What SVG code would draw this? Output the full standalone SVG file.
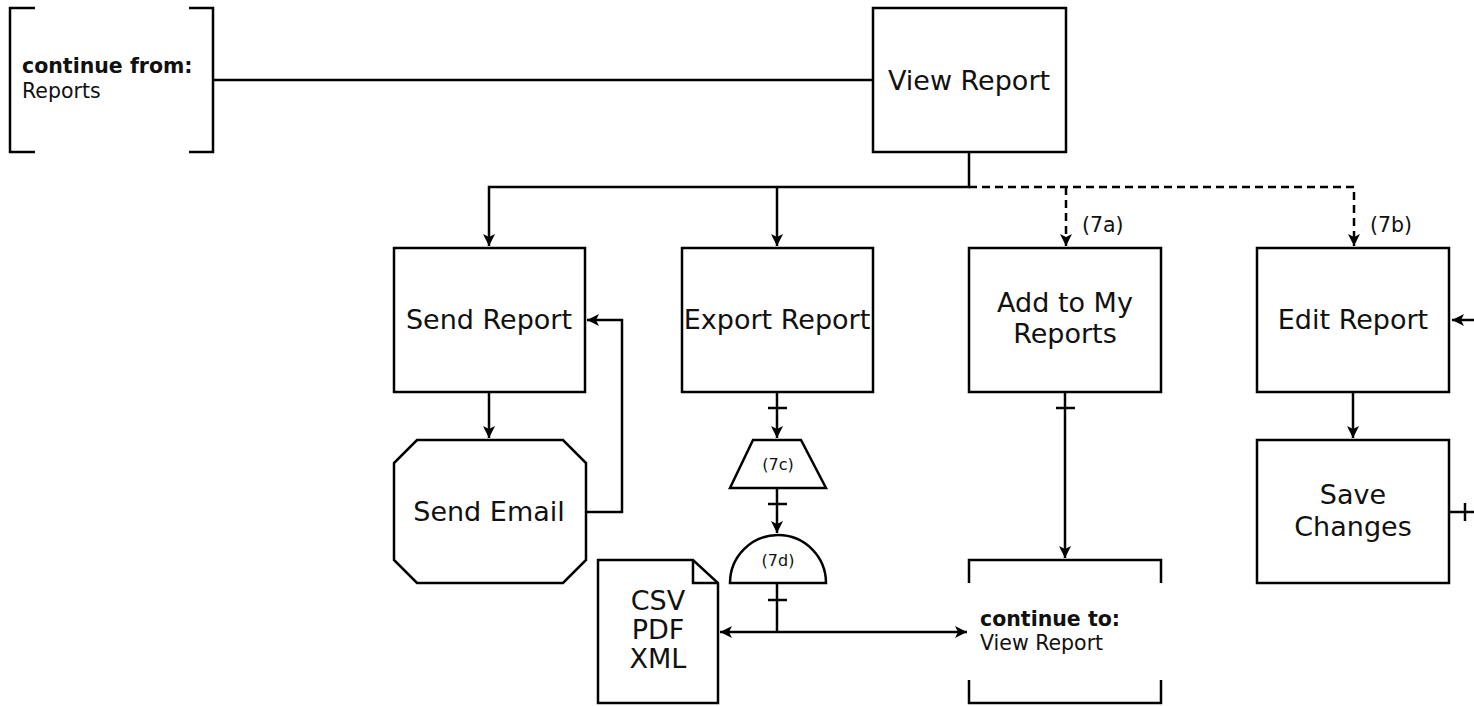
<svg xmlns="http://www.w3.org/2000/svg" width="1474" height="706" viewBox="0 0 1474 706">
<defs>
<marker id="arr" viewBox="0 0 12 12" refX="12" refY="6" markerWidth="12" markerHeight="12" markerUnits="userSpaceOnUse" orient="auto">
<path d="M0,0 L12,6 L0,12 L3,6 Z" fill="#000"/>
</marker>
</defs>
<style>
.s{fill:#fff;stroke:#000;stroke-width:2.5}
.b{fill:none;stroke:#000;stroke-width:2.5}
.c{fill:none;stroke:#000;stroke-width:2.5}
.d{stroke-dasharray:8 5}
.t{font-family:"DejaVu Sans",Verdana,sans-serif;font-size:27px;text-anchor:middle;fill:#111}
.sm{font-family:"DejaVu Sans",Verdana,sans-serif;font-size:16px;text-anchor:middle;fill:#111}
.lb{font-family:"DejaVu Sans",Verdana,sans-serif;font-size:20.5px;fill:#111}
.bo{font-weight:bold}
</style>
<g id="connectors">
<line class="c" x1="213" y1="80" x2="873" y2="80"/>
<polyline class="c" points="969,152 969,187 489,187 489,246" marker-end="url(#arr)"/>
<line class="c" x1="777" y1="187" x2="777" y2="246" marker-end="url(#arr)"/>
<polyline class="c d" points="969,187 1354,187 1354,246" marker-end="url(#arr)"/>
<line class="c d" x1="1066" y1="187" x2="1066" y2="246" marker-end="url(#arr)"/>
<line class="c" x1="489" y1="392" x2="489" y2="438" marker-end="url(#arr)"/>
<polyline class="c" points="586,512 622,512 622,320 587,320" marker-end="url(#arr)"/>
<line class="c" x1="777" y1="392" x2="777" y2="438" marker-end="url(#arr)"/>
<line class="c" x1="768" y1="408" x2="787" y2="408"/>
<line class="c" x1="777" y1="488" x2="777" y2="533" marker-end="url(#arr)"/>
<line class="c" x1="768" y1="504" x2="787" y2="504"/>
<line class="c" x1="777" y1="583" x2="777" y2="632"/>
<line class="c" x1="768" y1="600" x2="787" y2="600"/>
<line class="c" x1="777" y1="632" x2="720" y2="632" marker-end="url(#arr)"/>
<line class="c" x1="777" y1="632" x2="967" y2="632" marker-end="url(#arr)"/>
<line class="c" x1="1065" y1="392" x2="1065" y2="558" marker-end="url(#arr)"/>
<line class="c" x1="1056" y1="408" x2="1075" y2="408"/>
<line class="c" x1="1353" y1="392" x2="1353" y2="438" marker-end="url(#arr)"/>
<line class="c" x1="1474" y1="320" x2="1452" y2="320" marker-end="url(#arr)"/>
<line class="c" x1="1449" y1="512" x2="1474" y2="512"/>
<line class="c" x1="1465" y1="503" x2="1465" y2="521"/>
</g>
<g id="continue-from">
<polyline class="b" points="35,8 10,8 10,152 35,152"/>
<polyline class="b" points="189,8 213,8 213,152 189,152"/>
<text class="lb bo" x="22" y="73">continue from:</text>
<text class="lb" x="22" y="98">Reports</text>
</g>
<g id="view-report">
<rect class="s" x="873" y="8" width="193" height="144"/>
<text class="t" x="969" y="90">View Report</text>
</g>
<g id="send-report">
<rect class="s" x="394" y="248" width="191" height="144"/>
<text class="t" x="489" y="329">Send Report</text>
</g>
<g id="export-report">
<rect class="s" x="682" y="248" width="191" height="144"/>
<text class="t" x="777" y="329">Export Report</text>
</g>
<g id="add-to-my-reports">
<rect class="s" x="969" y="248" width="192" height="144"/>
<text class="t" x="1065" y="312">Add to My</text>
<text class="t" x="1065" y="343">Reports</text>
</g>
<text class="lb" x="1082" y="232">(7a)</text>
<g id="edit-report">
<rect class="s" x="1257" y="248" width="192" height="144"/>
<text class="t" x="1353" y="329">Edit Report</text>
</g>
<text class="lb" x="1370" y="232">(7b)</text>
<g id="send-email">
<polygon class="s" points="417,440 563,440 586,463 586,560 563,583 417,583 394,560 394,463"/>
<text class="t" x="489" y="521">Send Email</text>
</g>
<g id="save-changes">
<rect class="s" x="1257" y="440" width="192" height="143"/>
<text class="t" x="1353" y="504">Save</text>
<text class="t" x="1353" y="536">Changes</text>
</g>
<g id="step-7c">
<polygon class="s" points="753,440 801,440 826,488 730,488"/>
<text class="sm" x="778" y="470">(7c)</text>
</g>
<g id="step-7d">
<path class="s" d="M730,583 A48,48 0 0 1 826,583 Z"/>
<text class="sm" x="778" y="566">(7d)</text>
</g>
<g id="formats">
<path class="s" d="M598,560 L693,560 L718,583 L718,703 L598,703 Z"/>
<path class="b" d="M693,560 L693,583 L718,583"/>
<text class="t" x="658" y="610">CSV</text>
<text class="t" x="658" y="639">PDF</text>
<text class="t" x="658" y="668">XML</text>
</g>
<g id="continue-to">
<polyline class="b" points="969,583 969,560 1161,560 1161,583"/>
<polyline class="b" points="969,680 969,703 1161,703 1161,680"/>
<text class="lb bo" x="980" y="626">continue to:</text>
<text class="lb" x="980" y="650">View Report</text>
</g>
</svg>
